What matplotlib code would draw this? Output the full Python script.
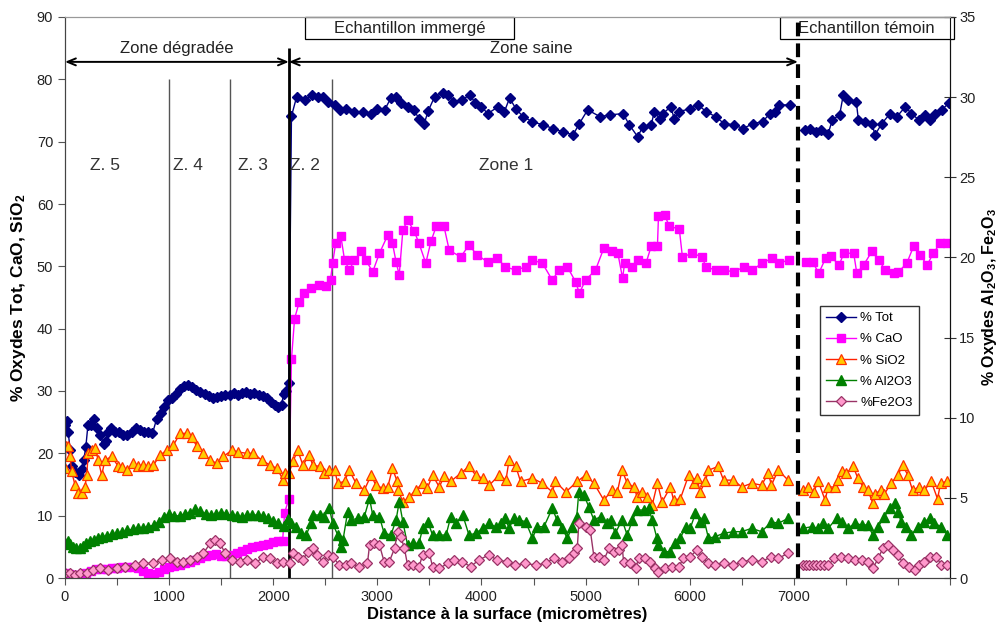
import numpy as np
import matplotlib
matplotlib.use('Agg')
import matplotlib.pyplot as plt
from matplotlib.patches import Rectangle

plt.rcParams['font.family'] = ['Liberation Sans', 'DejaVu Sans']
plt.rcParams['mathtext.default'] = 'regular'

# ---- data (distance in micrometres, values in %) ----
# immersed sample, 0 - 7000 um
tot_x = [0, 15, 30, 50, 70, 100, 130, 160, 180, 200, 220, 250, 280, 310, 340, 370, 390, 410, 440, 480,
         520, 560, 600, 640, 680, 720, 760, 800, 840, 880, 920, 950, 990, 1030, 1070, 1100, 1140, 1180, 1220, 1260,
         1300, 1340, 1380, 1420, 1460, 1500, 1540, 1580, 1620, 1660, 1700, 1740, 1780, 1820, 1860, 1900, 1940, 1980, 2020, 2050,
         2080, 2100, 2120, 2150,
         2175, 2225, 2305, 2370, 2430, 2480, 2530, 2590, 2640, 2700, 2780, 2860, 2940, 3000, 3070, 3130, 3180, 3230, 3290, 3350,
         3400, 3450, 3490, 3550, 3630, 3680, 3730, 3810, 3890, 3940, 4000, 4060, 4160, 4220, 4270, 4330, 4400, 4490, 4590, 4690,
         4780, 4880, 4940, 5020, 5140, 5230, 5360, 5420, 5500, 5550, 5630, 5660, 5710, 5740, 5820, 5850, 5900, 6000, 6080, 6160,
         6250, 6330, 6430, 6510, 6610, 6700, 6770, 6820, 6860, 6960]
tot_y = [24.5, 25.2, 23.5, 20.5, 18.0, 17.0, 16.5, 17.5, 19.0, 21.0, 24.5, 24.5, 25.5, 24.0, 23.0, 21.5, 22.0, 23.5, 24.0, 23.5,
         23.5, 23.0, 23.0, 23.5, 24.0, 23.8, 23.5, 23.5, 23.2, 25.5, 26.5, 27.5, 28.5, 28.8, 29.5, 30.3, 30.8, 30.9, 30.6, 30.2,
         29.8, 29.5, 29.2, 28.8, 29.0, 29.2, 29.3, 29.4, 29.6, 29.3, 29.6, 29.8, 29.5, 29.7, 29.4, 29.2, 28.8, 28.2, 27.7, 27.5,
         27.8, 29.5, 30.0, 31.3,
         74.1, 77.2, 76.7, 77.5, 77.2, 77.2, 76.4, 75.9, 75.1, 75.3, 74.8, 74.8, 74.5, 75.3, 75.1, 77.0, 77.2, 76.2, 75.6, 75.1,
         73.7, 72.9, 75.0, 77.2, 77.8, 77.5, 76.4, 76.7, 77.5, 76.2, 75.6, 74.5, 75.6, 74.8, 77.0, 75.3, 74.0, 73.2, 72.7, 72.1,
         71.6, 71.1, 72.9, 75.1, 74.0, 74.3, 74.5, 72.7, 70.8, 72.4, 72.7, 74.8, 73.7, 74.5, 75.6, 73.7, 74.8, 75.3, 75.9, 74.8,
         74.0, 72.9, 72.7, 72.1, 72.9, 73.2, 74.5, 74.8, 75.9, 75.9]

cao_x = [0, 40, 80, 120, 160, 200, 250, 300, 350, 400, 450, 500, 550, 600, 650, 700, 750, 800, 850, 900,
         950, 1000, 1050, 1100, 1150, 1200, 1250, 1300, 1350, 1400, 1450, 1500, 1550, 1600, 1650, 1700, 1750, 1800, 1850, 1900,
         1950, 2000, 2050, 2090, 2110, 2150,
         2175, 2205, 2250, 2300, 2365, 2440, 2505, 2550, 2570, 2600, 2650, 2685, 2730, 2780, 2845, 2890, 2955, 3020, 3100, 3145,
         3180, 3210, 3245, 3290, 3355, 3400, 3465, 3515, 3565, 3640, 3690, 3800, 3880, 3960, 4060, 4150, 4230, 4330, 4425, 4490,
         4585, 4680, 4745, 4825, 4905, 4940, 5000, 5095, 5175, 5255, 5310, 5355, 5375, 5450, 5500, 5580, 5630, 5690, 5700, 5760,
         5805, 5900, 5930, 6025, 6120, 6155, 6250, 6330, 6425, 6520, 6600, 6695, 6790, 6855, 6950]
cao_y = [0.8, 0.6, 0.5, 0.5, 0.6, 0.8, 1.2, 1.5, 1.4, 1.5, 1.6, 1.6, 1.7, 1.8, 1.8, 1.6, 1.2, 0.8, 0.7, 1.0,
         1.5, 1.8, 1.9, 2.1, 2.4, 2.6, 2.9, 3.2, 3.5, 3.7, 3.8, 3.6, 3.5, 3.7, 4.0, 4.4, 4.7, 5.0, 5.2, 5.3,
         5.5, 5.8, 6.0, 6.0, 10.5, 12.7,
         35.1, 41.6, 44.3, 45.7, 46.5, 47.0, 46.8, 47.8, 50.5, 53.7, 54.8, 51.0, 49.4, 51.0, 52.4, 51.0, 49.1, 52.1, 55.0, 53.7,
         50.7, 48.6, 55.8, 57.4, 55.6, 53.7, 50.5, 54.0, 56.4, 56.4, 52.6, 51.5, 53.4, 51.8, 50.7, 51.3, 49.9, 49.4, 49.9, 51.0,
         50.5, 47.8, 49.4, 49.9, 47.5, 45.7, 47.8, 49.4, 52.9, 52.4, 52.1, 48.1, 50.5, 49.9, 51.0, 50.5, 53.2, 53.2, 58.0, 58.2,
         56.4, 56.0, 51.5, 52.1, 51.5, 49.9, 49.4, 49.4, 49.1, 49.9, 49.4, 50.5, 51.3, 50.5, 51.0]

sio2_x = [0, 10, 32, 48, 64, 96, 128, 160, 192, 208, 224, 260, 288, 320, 352, 384, 448, 512, 550, 593,
          657, 700, 753, 800, 849, 913, 977, 1041, 1105, 1169, 1217, 1265, 1330, 1394, 1458, 1522, 1602, 1666, 1746, 1810,
          1890, 1970, 2034, 2098, 2114, 2150,
          2190, 2235, 2285, 2345, 2380, 2445, 2490, 2540, 2590, 2620, 2685, 2730, 2795, 2875, 2940, 2985, 3050, 3100, 3145, 3190,
          3200, 3245, 3305, 3370, 3435, 3480, 3530, 3595, 3640, 3705, 3800, 3880, 3945, 4010, 4075, 4170, 4235, 4265, 4330, 4375,
          4490, 4585, 4680, 4710, 4810, 4920, 5000, 5080, 5175, 5255, 5305, 5350, 5400, 5465, 5495, 5545, 5590, 5640, 5690, 5735,
          5815, 5845, 5910, 5990, 6040, 6070, 6100, 6150, 6180, 6275, 6325, 6420, 6500, 6595, 6690, 6755, 6785, 6850, 6945]
sio2_y = [17.6, 21.1, 21.2, 19.6, 17.1, 14.9, 13.6, 13.6, 14.6, 16.5, 20.0, 20.5, 20.8, 18.9, 16.5, 18.9, 19.5, 17.9, 17.8, 17.3,
          18.4, 18.0, 18.1, 17.9, 18.1, 19.7, 20.5, 21.3, 23.2, 23.2, 22.7, 21.1, 20.0, 18.9, 18.4, 19.5, 20.5, 20.2, 20.0, 20.0,
          18.9, 18.1, 17.6, 15.7, 16.8, 16.8,
          18.7, 20.5, 18.1, 19.7, 18.1, 17.9, 16.8, 17.3, 17.3, 15.2, 15.5, 17.3, 15.2, 14.1, 16.5, 14.9, 14.4, 14.6, 17.6, 15.5,
          14.1, 12.2, 13.0, 14.1, 15.2, 14.4, 16.5, 14.6, 16.3, 15.5, 16.8, 17.9, 16.5, 16.0, 14.9, 16.5, 15.7, 18.9, 17.9, 15.5,
          16.0, 15.2, 13.8, 15.5, 13.8, 15.5, 16.5, 15.2, 12.5, 14.1, 13.8, 17.3, 15.2, 14.6, 13.0, 13.8, 13.0, 11.7, 15.2, 12.2,
          14.6, 12.5, 12.7, 16.5, 15.2, 16.0, 13.8, 15.5, 17.3, 17.9, 15.7, 15.7, 14.6, 15.2, 14.9, 16.8, 14.9, 17.3, 15.7]

al_x = [0, 25, 50, 80, 110, 140, 170, 200, 240, 280, 320, 360, 400, 450, 500, 550, 600, 650, 700, 750,
        800, 850, 900, 950, 1000, 1050, 1100, 1150, 1200, 1250, 1300, 1350, 1400, 1450, 1500, 1550, 1600, 1650, 1700, 1750,
        1800, 1850, 1900, 1950, 2000, 2050, 2100, 2140,
        2175, 2220, 2270, 2315, 2365, 2380, 2445, 2490, 2540, 2570, 2620, 2650, 2670, 2715, 2745, 2810, 2875, 2925, 2955, 3020,
        3065, 3130, 3180, 3210, 3245, 3290, 3340, 3400, 3435, 3485, 3530, 3595, 3660, 3705, 3755, 3820, 3880, 3945, 4010, 4070,
        4135, 4185, 4230, 4265, 4310, 4360, 4425, 4490, 4535, 4600, 4680, 4725, 4775, 4825, 4870, 4915, 4935, 4985, 5030, 5080,
        5145, 5205, 5240, 5285, 5350, 5400, 5450, 5495, 5560, 5605, 5640, 5685, 5700, 5750, 5815, 5860, 5910, 5960, 6005, 6055,
        6100, 6135, 6180, 6245, 6325, 6420, 6500, 6595, 6690, 6785, 6850, 6945]
al_y = [2.16, 2.28, 2.10, 1.95, 1.88, 1.85, 2.00, 2.18, 2.32, 2.40, 2.48, 2.55, 2.65, 2.72, 2.78, 2.85, 2.98, 3.03, 3.10, 3.14,
        3.20, 3.30, 3.50, 3.80, 4.00, 3.88, 3.88, 4.00, 4.08, 4.28, 4.15, 4.02, 3.95, 3.98, 4.08, 4.02, 3.90, 3.85, 3.83, 3.90,
        3.94, 3.92, 3.88, 3.74, 3.58, 3.41, 3.22, 3.70,
        3.41, 3.20, 2.79, 2.68, 3.41, 3.93, 3.93, 3.83, 4.35, 3.41, 2.68, 1.95, 2.37, 4.14, 3.62, 3.72, 3.83, 4.97, 3.93, 3.83,
        2.79, 2.68, 3.62, 4.76, 3.51, 2.06, 2.16, 2.16, 3.10, 3.51, 2.68, 2.68, 2.68, 3.83, 3.41, 3.93, 2.68, 2.79, 3.10, 3.41,
        3.20, 3.41, 3.72, 3.10, 3.72, 3.62, 3.51, 2.48, 3.20, 3.20, 4.35, 3.62, 3.10, 2.48, 3.20, 3.83, 5.38, 5.17, 4.45, 3.62,
        3.83, 3.41, 3.62, 2.79, 3.62, 2.68, 3.62, 4.24, 4.24, 4.35, 3.62, 2.48, 2.06, 1.64, 1.64, 2.16, 2.48, 3.20, 3.10, 4.03,
        3.51, 3.72, 2.48, 2.58, 2.79, 2.89, 2.89, 3.10, 2.89, 3.51, 3.41, 3.72]

fe_x = [0, 48, 96, 144, 208, 272, 336, 416, 496, 577, 673, 753, 849, 929, 1009, 1073, 1137, 1201, 1265, 1329,
        1394, 1442, 1490, 1538, 1602, 1682, 1746, 1826, 1906, 1970, 2034, 2098,
        2160, 2190, 2235, 2285, 2330, 2380, 2425, 2475, 2525, 2570, 2635, 2700, 2745, 2825, 2905, 2925, 2970, 3020, 3065, 3115,
        3165, 3195, 3225, 3260, 3290, 3340, 3400, 3435, 3500, 3530, 3595, 3675, 3740, 3815, 3895, 3975, 4070, 4150, 4245, 4325,
        4420, 4520, 4615, 4695, 4775, 4840, 4885, 4920, 4935, 5000, 5045, 5080, 5125, 5175, 5225, 5270, 5320, 5350, 5365, 5430,
        5480, 5510, 5575, 5620, 5670, 5700, 5765, 5830, 5895, 5940, 6005, 6070, 6115, 6180, 6245, 6325, 6420, 6500, 6595, 6690,
        6785, 6850, 6945]
fe_y = [0.33, 0.29, 0.19, 0.29, 0.29, 0.50, 0.60, 0.50, 0.60, 0.71, 0.81, 0.91, 0.91, 1.12, 1.23, 1.02, 1.02, 1.12, 1.33, 1.54,
        2.16, 2.37, 2.16, 1.54, 1.12, 1.02, 1.12, 0.91, 1.33, 1.23, 0.91, 1.02,
        0.91, 1.54, 1.33, 1.12, 1.64, 1.85, 1.44, 1.02, 1.44, 1.33, 0.81, 0.81, 0.91, 0.71, 0.91, 2.06, 2.16, 2.06, 1.02, 1.02,
        1.85, 2.89, 2.58, 1.85, 0.81, 0.81, 0.71, 1.44, 1.54, 0.71, 0.60, 0.91, 1.12, 1.02, 0.71, 1.12, 1.44, 1.12, 1.02, 0.81,
        0.91, 0.81, 0.91, 1.23, 1.02, 1.23, 1.54, 1.85, 3.41, 3.20, 2.99, 1.33, 1.33, 1.12, 1.85, 1.64, 1.75, 2.06, 1.02, 0.91,
        0.60, 1.23, 1.23, 1.02, 0.60, 0.40, 0.60, 0.71, 0.71, 1.23, 1.33, 1.75, 1.33, 0.91, 0.81, 0.91, 0.81, 1.02, 1.12, 1.02,
        1.33, 1.23, 1.54]

# reference sample (echantillon temoin)
tot_t_x = [7110, 7160, 7210, 7260, 7330, 7370, 7440, 7475, 7520, 7600, 7620, 7680, 7750, 7780, 7845, 7925, 7990, 8070, 8130, 8200,
           8260, 8310, 8360, 8420, 8490]
tot_t_y = [71.9, 72.1, 71.6, 71.9, 71.3, 73.5, 74.3, 77.5, 76.7, 76.4, 73.5, 73.2, 72.9, 71.1, 72.9, 74.5, 74.0, 75.6, 74.5, 73.5,
           74.3, 73.5, 74.5, 75.1, 76.2]
cao_t_x = [7120, 7180, 7240, 7305, 7355, 7435, 7480, 7575, 7605, 7670, 7750, 7815, 7880, 7960, 8005, 8085, 8150, 8215, 8280, 8340,
           8405, 8470]
cao_t_y = [50.7, 50.7, 48.9, 51.3, 51.6, 50.2, 52.1, 52.1, 48.9, 50.2, 52.4, 51.0, 49.4, 48.9, 49.1, 50.5, 53.2, 51.8, 50.2, 52.1,
           53.7, 53.7]
sio2_t_x = [7090, 7140, 7190, 7235, 7300, 7330, 7395, 7425, 7460, 7505, 7570, 7615, 7665, 7710, 7760, 7775, 7840, 7870, 7935, 8000,
            8045, 8095, 8140, 8205, 8255, 8320, 8380, 8410, 8470]
sio2_t_y = [14.1, 14.6, 13.8, 15.5, 12.5, 14.6, 14.6, 15.7, 17.1, 16.8, 17.9, 16.0, 14.6, 14.1, 12.0, 13.5, 14.1, 13.5, 15.2, 16.5,
            18.1, 16.5, 14.1, 14.6, 14.1, 15.5, 12.7, 15.2, 15.5]
al_t_x = [7090, 7170, 7235, 7280, 7330, 7410, 7460, 7520, 7585, 7650, 7710, 7760, 7810, 7870, 7920, 7970, 8000, 8030, 8080, 8130,
          8190, 8255, 8305, 8350, 8415, 8475]
al_t_y = [3.10, 3.20, 3.10, 3.41, 3.10, 3.72, 3.51, 3.10, 3.41, 3.31, 3.31, 2.68, 3.20, 3.83, 4.35, 4.66, 4.14, 3.51, 3.20, 2.68,
          3.20, 3.51, 3.72, 3.41, 3.20, 2.68]
fe_t_x = [7090, 7120, 7150, 7185, 7215, 7250, 7290, 7330, 7390, 7455, 7520, 7585, 7650, 7715, 7760, 7810, 7855, 7905, 7950, 8000,
          8050, 8110, 8160, 8205, 8255, 8305, 8370, 8415, 8475]
fe_t_y = [0.81, 0.81, 0.81, 0.81, 0.81, 0.81, 0.81, 0.81, 1.23, 1.33, 1.23, 1.12, 1.12, 1.02, 0.60, 1.23, 1.85, 2.06, 1.75, 1.44,
          0.91, 0.71, 0.50, 0.81, 1.02, 1.33, 1.33, 0.81, 0.81]

# zones
zone_lines = [1000, 1580, 2560]
surface_limit = 2150
temoin_limit = 7040
zone_labels = ['Z. 5', 'Z. 4', 'Z. 3', 'Z. 2', 'Zone 1']
zone_label_x = [384, 1182, 1807, 2307, 4238]


def join(a, b):
    return np.array(a + [np.nan] + b, dtype=float)


fig = plt.figure(figsize=(10.04, 6.28), dpi=100)
ax = fig.add_axes([65 / 1004, 50 / 628, 885 / 1004, 561 / 628])
ax2 = ax.twinx()

l1, = ax.plot(join(tot_x, tot_t_x), join(tot_y, tot_t_y), color='#000080', lw=1, marker='D', ms=5,
              mfc='#000080', mec='#000080', label='% Tot')
l2, = ax.plot(join(cao_x, cao_t_x), join(cao_y, cao_t_y), color='#FF00FF', lw=1, marker='s', ms=6,
              mfc='#FF00FF', mec='#FF00FF', label='% CaO')
l3, = ax.plot(join(sio2_x, sio2_t_x), join(sio2_y, sio2_t_y), color='#FF2000', lw=1, marker='^', ms=6.5,
              mfc='#FFCC00', mec='#FF3300', mew=0.9, label='% SiO2')
l4, = ax2.plot(join(al_x, al_t_x), join(al_y, al_t_y), color='#008000', lw=1, marker='^', ms=6.5,
               mfc='#008000', mec='#008000', label='% Al2O3')
l5, = ax2.plot(join(fe_x, fe_t_x), join(fe_y, fe_t_y), color='#993366', lw=1, marker='D', ms=5,
               mfc='#FF99CC', mec='#993366', mew=0.9, label='%Fe2O3')

ax.set_xlim(0, 8500)
ax.set_ylim(0, 90)
ax2.set_ylim(0, 35)
ax.set_yticks(range(0, 91, 10))
ax2.set_yticks(range(0, 36, 5))
ax.set_xticks(range(0, 8501, 500))
ax.set_xticklabels([str(v) if v % 1000 == 0 and v <= 7000 else '' for v in range(0, 8501, 500)])

ax.tick_params(axis='both', direction='out', length=5, labelsize=10.5, labelcolor='#222222', color='#555555')
ax2.tick_params(axis='y', direction='inout', length=9, labelsize=10.5, labelcolor='#222222', color='#333333', pad=2)

for a in (ax, ax2):
    a.spines['top'].set_color('#999999')
    a.spines['left'].set_color('#444444')
    a.spines['right'].set_color('#111111')
    a.spines['bottom'].set_color('#444444')

ax.set_xlabel('Distance à la surface (micromètres)', fontsize=12, fontweight='bold', labelpad=2)
ax.set_ylabel('% Oxydes Tot, CaO, SiO$_2$', fontsize=12.5, fontweight='bold', labelpad=6)
ax2.set_ylabel('% Oxydes Al$_2$O$_3$, Fe$_2$O$_3$', fontsize=11.5, fontweight='bold', labelpad=3)

# zone boundaries
ax.vlines(zone_lines, 0, 80, colors='#555555', lw=1, zorder=1)
ax.vlines([surface_limit], 0, 85, colors='black', lw=2, zorder=3)
ax2.vlines([temoin_limit], 0, 35, colors='black', lw=3, linestyles=(0, (3.3, 1.7)), zorder=5)

for lab, xv in zip(zone_labels, zone_label_x):
    ax.text(xv, 66.2, lab, ha='center', va='center', fontsize=12.5, color='#333333')

arrow_kw = dict(arrowstyle='<->,head_length=0.6,head_width=0.25', color='black', lw=1.4,
                shrinkA=0, shrinkB=0)
ax.annotate('', xy=(0, 82.8), xytext=(surface_limit, 82.8), arrowprops=arrow_kw)
ax.annotate('', xy=(surface_limit, 82.8), xytext=(temoin_limit, 82.8), arrowprops=arrow_kw)
ax.text(1073, 84.9, 'Zone dégradée', ha='center', va='center', fontsize=12, color='#222222')
ax.text(4480, 84.9, 'Zone saine', ha='center', va='center', fontsize=12, color='#222222')

# sample boxes
ax.add_patch(Rectangle((2307, 86.5), 2008, 3.5, fc='white', ec='black', lw=0.9, clip_on=False, zorder=4))
ax.text(3311, 88.2, 'Echantillon immergé', ha='center', va='center', fontsize=12, color='#222222', zorder=4)
ax.add_patch(Rectangle((6872, 86.5), 1662, 3.5, fc='white', ec='black', lw=0.9, clip_on=False, zorder=4))
ax.text(7698, 88.2, 'Echantillon témoin', ha='center', va='center', fontsize=12, color='#222222', zorder=4)

leg = ax2.legend(handles=[l1, l2, l3, l4, l5], loc='upper left', bbox_to_anchor=(820 / 1004, 1 - 306 / 628),
                 bbox_transform=fig.transFigure, borderaxespad=0, fontsize=9.5, frameon=True, fancybox=False,
                 edgecolor='black', handlelength=2.3, handletextpad=0.3, labelspacing=0.68, borderpad=0.45)
leg.get_frame().set_linewidth(1.0)
leg.set_zorder(10)

fig.savefig('out.png', dpi=100)
